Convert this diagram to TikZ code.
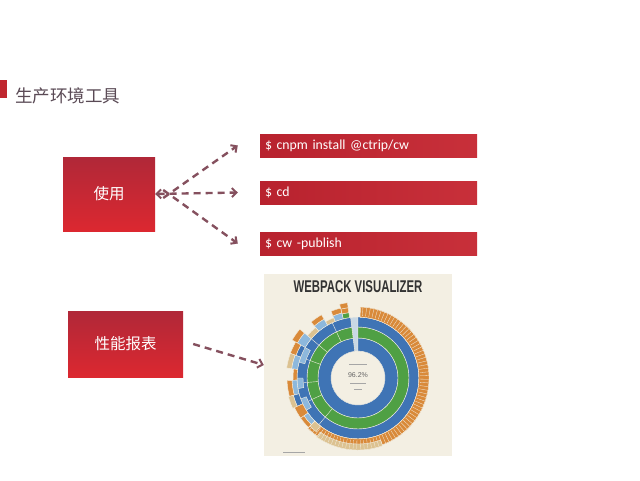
\documentclass[tikz,border=0pt]{standalone}
\usepackage{fontspec}
\setmainfont{Carlito}
\newfontfamily\cjk{Noto Sans CJK SC}
\newfontfamily\vizfont{Liberation Sans}
\usetikzlibrary{arrows.meta, positioning}

\definecolor{titlered}{HTML}{C0272F}
\definecolor{boxtop}{HTML}{B02838}
\definecolor{boxbot}{HTML}{DC2830}
\definecolor{cmdleft}{HTML}{B8222E}
\definecolor{cmdright}{HTML}{C8303A}
\definecolor{arrowcol}{HTML}{85505E}
\definecolor{titlegrey}{HTML}{5A4A55}
\definecolor{cream}{HTML}{F3EFE3}
\definecolor{sbblue}{HTML}{3F74B5}
\definecolor{sbgreen}{HTML}{4FA044}
\definecolor{sborange}{HTML}{D98A3A}
\definecolor{sbtan}{HTML}{DCC291}
\definecolor{sblight}{HTML}{8DB8DC}
\definecolor{sbpale}{HTML}{C9D8E4}

% one sunburst cell: inner radius, outer radius, start angle, end angle, colour
\newcommand{\sbcell}[5]{%
  \filldraw[fill=#5, draw=cream, line width=0.4pt]
    (#3:#1pt) arc[start angle=#3, end angle=#4, radius=#1pt]
    -- (#4:#2pt) arc[start angle=#4, end angle=#3, radius=#2pt] -- cycle;}

\begin{document}
\begin{tikzpicture}[
    x=1pt, y=-1pt,
    usebox/.style={rectangle, minimum width=92pt, minimum height=74pt,
                   top color=boxtop, bottom color=boxbot, draw=none,
                   text=white, font=\cjk\fontsize{15.5}{18}\selectfont},
    cmdbox/.style={rectangle, minimum width=217pt, minimum height=23pt,
                   left color=cmdleft, right color=cmdright, draw=none,
                   text=white, align=left, text width=207pt,
                   font=\fontsize{13.8}{15}\selectfont},
    barb/.tip={Straight Barb[length=4.5pt, width=9pt, line width=2pt]},
    arr/.style={-barb, line width=2.4pt, arrowcol, dash pattern=on 7pt off 5pt},
]
  \useasboundingbox (0,0) rectangle (640,480);
  \fill[white] (0,0) rectangle (640,480);

  % Title
  \fill[titlered] (0,80) rectangle (7,98);
  \node[anchor=west, inner sep=0pt, text=titlegrey,
        font=\cjk\fontsize{17.5}{19}\selectfont] (title) at (15,96) {生产环境工具};

  % Left boxes
  \node[usebox] (use) at (109,194) {使用};
  \node[usebox, minimum width=115pt, minimum height=66pt] (perf) at (125.5,344) {性能报表};

  % Command boxes
  \node[cmdbox] (cmd1) at (368.5,145.5) {\$ cnpm install @ctrip/cw};
  \node[cmdbox] (cmd2) at (368.5,192.5) {\$ cd};
  \node[cmdbox] (cmd3) at (368.5,243.5) {\$ cw -publish};

  % Arrows from "use"
  \draw[arr] ([xshift=8pt,yshift=-4pt]use.east) -- ([xshift=-22pt]cmd1.west);
  \draw[arr, barb-barb] (use.east) -- ([xshift=-22pt]cmd2.west);
  \draw[arr] ([xshift=8pt,yshift=4pt]use.east) -- ([xshift=-22pt]cmd3.west);

  % Webpack visualizer picture
  \node[rectangle, fill=cream, minimum width=188pt, minimum height=182pt,
        inner sep=0pt] (viz) at (358,365) {};
  \node[font=\vizfont\bfseries\fontsize{17}{19}\selectfont, text=black!80,
        xscale=0.67, inner sep=0pt] (viztitle) at (358,287) {WEBPACK VISUALIZER};
  \draw[arr] ([xshift=10pt]perf.east) -- (viz.west);

  % Sunburst
  \begin{scope}[shift={(358,378)}]
    \sbcell{27}{61}{90}{97}{sbpale}
    \sbcell{27}{40}{97}{450}{sbblue}
    \sbcell{40}{51}{97}{450}{sbgreen}
    \sbcell{51}{61}{97}{450}{sbblue}
    \foreach \a in {115,140,160,185,205,230}
      \draw[cream, line width=0.4pt] (\a:40pt) -- (\a:61pt);
    \foreach \a/\b in {150/165,180/190,200/212}
      \sbcell{55}{61}{\a}{\b}{sblight}
    % right side, ribbed
    \sbcell{61}{71}{-135}{88}{sborange}
    \sbcell{66}{72}{-125}{-70}{sbtan}
    \foreach \a in {-133,-130,...,86}
      \draw[cream, line width=0.3pt] (\a:62pt) -- (\a:71pt);
    % left side, ragged
    \foreach \a/\b/\ri/\ro/\c in {
        98/104/61/66/sbgreen, 98/104/66/71/sborange, 98/104/71/76/sborange,
        104/112/61/67/sblight, 104/112/67/72/sborange,
        112/120/61/65/sbtan,
        120/130/61/68/sblight, 120/130/68/73/sborange,
        130/140/61/66/sbtan,
        140/150/61/70/sblight, 140/150/70/76/sborange,
        150/160/61/66/sbblue, 150/160/66/72/sborange,
        160/172/61/67/sblight, 160/172/67/72/sbtan,
        172/182/61/65/sborange,
        182/195/61/66/sblight, 182/195/66/71/sborange,
        195/205/61/67/sbblue, 195/205/67/72/sbtan,
        205/215/61/70/sborange,
        215/225/61/66/sblight, 215/225/66/70/sborange,
        225/232/61/68/sbtan}
      \sbcell{\ri}{\ro}{\a}{\b}{\c}
    % centre label
    \draw[black!35, line width=0.6pt] (-9pt,14pt) -- (9pt,14pt);
    \node[font=\vizfont\fontsize{7}{8}\selectfont, text=black!60,
          inner sep=0pt] (pct) at (0pt,3pt) {96.2\%};
    \draw[black!35, line width=0.6pt] (-8pt,-5pt) -- (8pt,-5pt);
    \draw[black!35, line width=0.6pt] (-4pt,-11pt) -- (4pt,-11pt);
  \end{scope}
  \draw[black!35, line width=0.6pt] (283,452) -- (305,452);
\end{tikzpicture}
\end{document}
